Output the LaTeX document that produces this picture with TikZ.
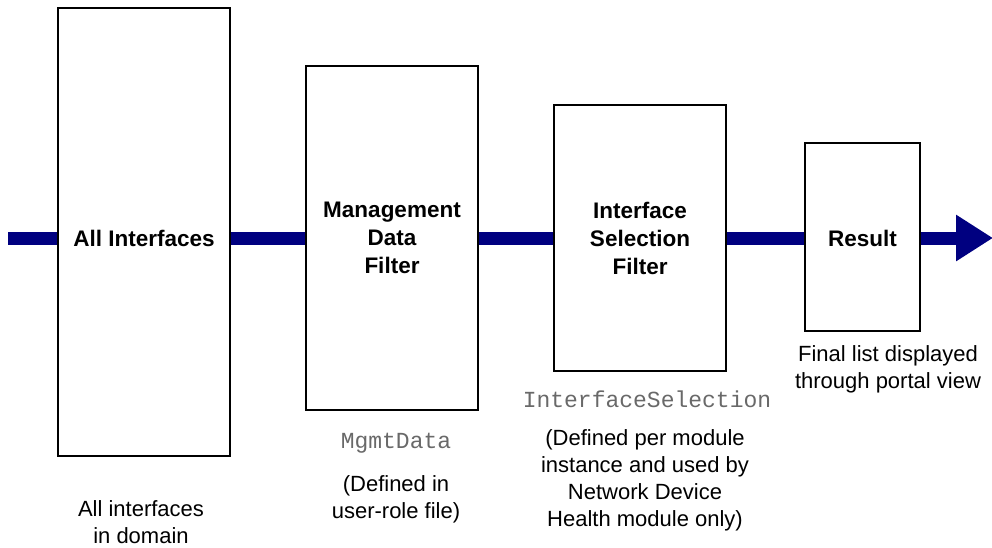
\documentclass[tikz,border=0pt]{standalone}
\usepackage{fontspec}
\setmainfont{Liberation Sans}
\setmonofont{Liberation Mono}
\usetikzlibrary{arrows.meta}
\definecolor{flow}{RGB}{0,0,128}
\definecolor{codegray}{RGB}{105,105,105}
\begin{document}
\begin{tikzpicture}[x=1pt,y=-1pt,
  box/.style={draw=black, line width=1.5pt, fill=white, rectangle, inner sep=0pt},
  boxtext/.style={font=\fontsize{22.5}{28}\selectfont\bfseries, align=center, inner sep=0pt},
  note/.style={font=\fontsize{22}{27}\selectfont, align=center, inner sep=0pt},
  code/.style={font=\fontsize{23}{27}\selectfont\ttfamily, text=codegray, inner sep=0pt},
  flowline/.style={draw=flow, line width=13pt}]
\useasboundingbox (0,0) rectangle (992,547);
\coordinate (start) at (8,238);
\coordinate (end) at (993,238);
% boxes
\node[box, minimum width=172pt, minimum height=448pt] (b1) at (144,232) {};
\node[box, minimum width=172pt, minimum height=344pt] (b2) at (392,238) {};
\node[box, minimum width=172pt, minimum height=266pt] (b3) at (640,238) {};
\node[box, minimum width=115pt, minimum height=188pt] (b4) at (862.5,237) {};
% connectors
\draw[flowline] (start) -- (b1.west |- start);
\draw[flowline] (b1.east |- start) -- (b2.west |- start);
\draw[flowline] (b2.east |- start) -- (b3.west |- start);
\draw[flowline] (b3.east |- start) -- (b4.west |- start);
\draw[flowline, -{Triangle[length=37pt, width=44pt]}] (b4.east |- start) -- (end);
% box texts
\node[boxtext] (t1) at (144,238) {All Interfaces};
\node[boxtext] (t2) at (392,238) {Management\\Data\\Filter};
\node[boxtext] (t3) at (640,238) {Interface\\Selection\\Filter};
\node[boxtext] (t4) at (862.5,238) {Result};
% notes
\node[note] (n1) at (141,522) {All interfaces\\in domain};
\node[code] (c2) at (396,443) {MgmtData};
\node[note] (n2) at (396,499) {(Defined in\\user-role file)};
\node[code] (c3) at (647,399) {InterfaceSelection};
\node[note] (n3) at (645,480) {(Defined per module\\instance and used by\\Network Device\\Health module only)};
\node[note] (n4) at (888,369) {Final list displayed\\through portal view};
\end{tikzpicture}
\end{document}
